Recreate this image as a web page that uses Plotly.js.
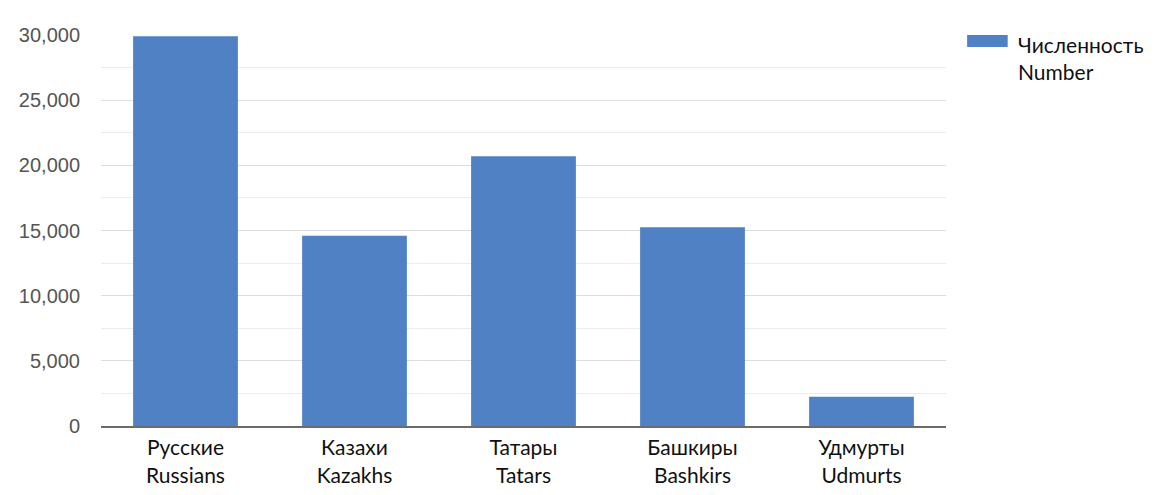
<!DOCTYPE html>
<html>
<head>
<meta charset="utf-8">
<script src="https://cdn.plot.ly/plotly-3.0.1.min.js"></script>
<style>
  html, body { margin: 0; padding: 0; background: #ffffff; }
  #chart { width: 1169px; height: 495px; }
</style>
</head>
<body>
<div id="chart"></div>
<script>
// categories (Russian / English) and the values
var categories = ["Русские<br>Russians", "Казахи<br>Kazakhs", "Татары<br>Tatars",
                  "Башкиры<br>Bashkirs", "Удмурты<br>Udmurts"];
var numbers = [29900, 14600, 20700, 15250, 2250];
var seriesName = "Численность<br>Number";
var yTickVals = [0, 5000, 10000, 15000, 20000, 25000, 30000];
var yTickText = ["0", "5,000", "10,000", "15,000", "20,000", "25,000", "30,000"];

var barColor = "#4f81c4";
var textFont = "Lato, 'Open Sans', sans-serif";

var bars = {
  type: "bar",
  x: categories,
  y: numbers,
  name: seriesName,
  showlegend: false,
  marker: {color: barColor, line: {width: 0}},
  hoverinfo: "x+y"
};

var layout = {
  width: 1169, height: 495,
  margin: {l: 101, r: 223, t: 35, b: 69},
  paper_bgcolor: "#ffffff",
  plot_bgcolor: "#ffffff",
  bargap: 0.38,
  showlegend: false,
  // wide legend swatch like the original (plotly's bar swatch is a small square)
  shapes: [{
    type: "rect", xref: "paper", yref: "paper",
    x0: 1.025, x1: 1.073, y0: 0.969, y1: 1.0,
    fillcolor: barColor, line: {width: 0}
  }],
  annotations: [{
    xref: "paper", yref: "paper", x: 1.083, y: 1.012,
    xanchor: "left", yanchor: "top", align: "left",
    text: seriesName, showarrow: false,
    font: {family: textFont, size: 21, color: "#111111"}
  }],
  xaxis: {
    type: "category",
    showgrid: false,
    showline: true, linecolor: "#6b6b6b", linewidth: 2,
    ticks: "",
    ticklabelstandoff: 2,
    tickfont: {family: textFont, size: 21, color: "#111111"},
    fixedrange: true
  },
  yaxis: {
    range: [0, 30000],
    tickvals: yTickVals,
    ticktext: yTickText,
    ticks: "",
    showline: false,
    zeroline: false,
    gridcolor: "#dddddd", gridwidth: 1,
    minor: {dtick: 2500, showgrid: true, gridcolor: "#ececec", gridwidth: 1},
    ticklabelstandoff: 20,
    tickfont: {family: "'Liberation Sans', Arial, sans-serif", size: 20, color: "#555555"},
    fixedrange: true
  }
};

Plotly.newPlot("chart", [bars], layout, {displayModeBar: false, staticPlot: true});
</script>
</body>
</html>
